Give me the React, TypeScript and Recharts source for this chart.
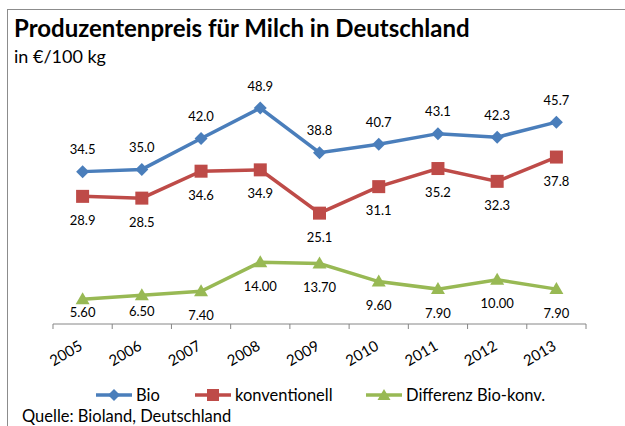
import React from 'react';
import { LineChart, Line, XAxis, YAxis, LabelList } from 'recharts';

const years = ['2005', '2006', '2007', '2008', '2009', '2010', '2011', '2012', '2013'];
const bio = [34.5, 35.0, 42.0, 48.9, 38.8, 40.7, 43.1, 42.3, 45.7];
const konventionell = [28.9, 28.5, 34.6, 34.9, 25.1, 31.1, 35.2, 32.3, 37.8];
const differenz = [5.6, 6.5, 7.4, 14.0, 13.7, 9.6, 7.9, 10.0, 7.9];
const yDomain: [number, number] = [0, 60];

const title = 'Produzentenpreis für Milch in Deutschland';
const subtitle = 'in €/100 kg';
const source = 'Quelle: Bioland, Deutschland';
const seriesNames = ['Bio', 'konventionell', 'Differenz Bio-konv.'];

// label nudges (style only), as in the original where two labels sit closer to their points
const diffLabelNudge = [-11, -8, 0, 0, 0, 0, 0, 0, 0];

const data = years.map((year, i) => ({
  year,
  bio: bio[i],
  konv: konventionell[i],
  diff: differenz[i],
}));

const BLUE = '#4A7EBB';
const RED = '#BE4B48';
const GREEN = '#98B954';
const AXIS = '#868686';
const FONT = 'Lato, "Open Sans", sans-serif';

const Diamond = (p: any) => {
  const { cx, cy } = p;
  if (cx == null || cy == null) return null;
  const r = 6.5;
  return <path d={`M${cx},${cy - r}L${cx + r},${cy}L${cx},${cy + r}L${cx - r},${cy}Z`} fill={BLUE} />;
};
const Square = (p: any) => {
  const { cx, cy } = p;
  if (cx == null || cy == null) return null;
  const s = 6.5;
  return <rect x={cx - s} y={cy - s} width={2 * s} height={2 * s} fill={RED} />;
};
const Triangle = (p: any) => {
  const { cx, cy } = p;
  if (cx == null || cy == null) return null;
  return <path d={`M${cx},${cy - 7}L${cx + 7},${cy + 5}L${cx - 7},${cy + 5}Z`} fill={GREEN} />;
};

// Category tick: rotated year label, plus tick marks between categories (Excel style)
const YearTick = (props: any) => {
  const { x, y, payload, index, visibleTicksCount, width } = props;
  const step = width / visibleTicksCount;
  const axisY = y - 5;
  const lx = x + 1;
  const ly = axisY + 25;
  return (
    <g>
      <line x1={x - step / 2} y1={axisY} x2={x - step / 2} y2={axisY + 5} stroke={AXIS} />
      {index === visibleTicksCount - 1 && (
        <line x1={x + step / 2} y1={axisY} x2={x + step / 2} y2={axisY + 5} stroke={AXIS} />
      )}
      <text
        x={lx}
        y={ly}
        transform={`rotate(-30 ${lx} ${ly})`}
        textAnchor="end"
        fontSize={15}
        fontFamily={FONT}
        fill="#000"
      >
        {payload.value}
      </text>
    </g>
  );
};

const makeLabel = (digits: number, place: 'above' | 'below', gap: number, nudge?: number[]) => (props: any) => {
  const { x, y, width, value, index } = props;
  if (value == null) return null;
  const cx = x + (width || 0) / 2;
  const shift = nudge ? nudge[index] || 0 : 0;
  const cy = (place === 'above' ? y - gap : y + gap) + shift;
  return (
    <text
      x={cx}
      y={cy}
      textAnchor="middle"
      dominantBaseline="central"
      fontSize={13}
      fontFamily={FONT}
      fill="#000"
    >
      {Number(value).toFixed(digits)}
    </text>
  );
};

const LegendMarker = ({ color, kind }: { color: string; kind: string }) => (
  <svg width={38} height={14} style={{ display: 'block' }}>
    <line x1={1} y1={7} x2={37} y2={7} stroke={color} strokeWidth={3.5} />
    {kind === 'diamond' && <path d="M19,1L25,7L19,13L13,7Z" fill={color} />}
    {kind === 'square' && <rect x={13} y={1} width={12} height={12} fill={color} />}
    {kind === 'triangle' && <path d="M19,1L25.5,12L12.5,12Z" fill={color} />}
  </svg>
);

const legendItems = [
  { name: seriesNames[0], color: BLUE, kind: 'diamond', left: 95 },
  { name: seriesNames[1], color: RED, kind: 'square', left: 194 },
  { name: seriesNames[2], color: GREEN, kind: 'triangle', left: 365 },
];

export default function App() {
  return (
    <div
      style={{
        position: 'absolute',
        left: 0,
        top: 0,
        width: 625,
        height: 426,
        overflow: 'hidden',
        background: '#fff',
        fontFamily: FONT,
      }}
    >
      <div
        style={{
          position: 'absolute',
          left: 7,
          top: 9,
          width: 618,
          height: 417,
          borderLeft: '1px solid #8c8c8c',
          borderTop: '1px solid #8c8c8c',
          boxSizing: 'border-box',
        }}
      />
      <div
        style={{
          position: 'absolute',
          left: 14,
          top: 16,
          fontSize: 24,
          fontWeight: 700,
          color: '#000',
          whiteSpace: 'nowrap',
          lineHeight: '24px',
        }}
      >
        {title}
      </div>
      <div
        style={{
          position: 'absolute',
          left: 14,
          top: 45.5,
          fontSize: 18,
          color: '#000',
          whiteSpace: 'nowrap',
          lineHeight: '20px',
        }}
      >
        {subtitle}
      </div>
      <div style={{ position: 'absolute', left: 0, top: 0 }}>
        <LineChart
          width={625}
          height={426}
          data={data}
          margin={{ top: 59, right: 39, left: 53, bottom: 62 }}
        >
          <YAxis hide domain={yDomain} />
          <XAxis
            dataKey="year"
            type="category"
            height={40}
            axisLine={{ stroke: AXIS }}
            tickLine={false}
            tickSize={5}
            tickMargin={0}
            padding={{ left: 29.6, right: 29.6 }}
            tick={<YearTick />}
            interval={0}
          />
          <Line
            dataKey="bio"
            stroke={BLUE}
            strokeWidth={3.5}
            dot={<Diamond />}
            activeDot={false}
            isAnimationActive={false}
          >
            <LabelList dataKey="bio" content={makeLabel(1, 'above', 22.5)} />
          </Line>
          <Line
            dataKey="konv"
            stroke={RED}
            strokeWidth={3.5}
            dot={<Square />}
            activeDot={false}
            isAnimationActive={false}
          >
            <LabelList dataKey="konv" content={makeLabel(1, 'below', 23.5)} />
          </Line>
          <Line
            dataKey="diff"
            stroke={GREEN}
            strokeWidth={3.5}
            dot={<Triangle />}
            activeDot={false}
            isAnimationActive={false}
          >
            <LabelList dataKey="diff" content={makeLabel(2, 'below', 23.5, diffLabelNudge)} />
          </Line>
        </LineChart>
      </div>
      {legendItems.map((it) => (
        <div
          key={it.name}
          style={{
            position: 'absolute',
            left: it.left,
            top: 385,
            height: 20,
            display: 'flex',
            alignItems: 'center',
            fontSize: 16.5,
            color: '#000',
            whiteSpace: 'nowrap',
          }}
        >
          <LegendMarker color={it.color} kind={it.kind} />
          <span style={{ marginLeft: 3 }}>{it.name}</span>
        </div>
      ))}
      <div
        style={{
          position: 'absolute',
          left: 22,
          top: 406,
          fontSize: 16.5,
          color: '#000',
          whiteSpace: 'nowrap',
          lineHeight: '20px',
        }}
      >
        {source}
      </div>
    </div>
  );
}
